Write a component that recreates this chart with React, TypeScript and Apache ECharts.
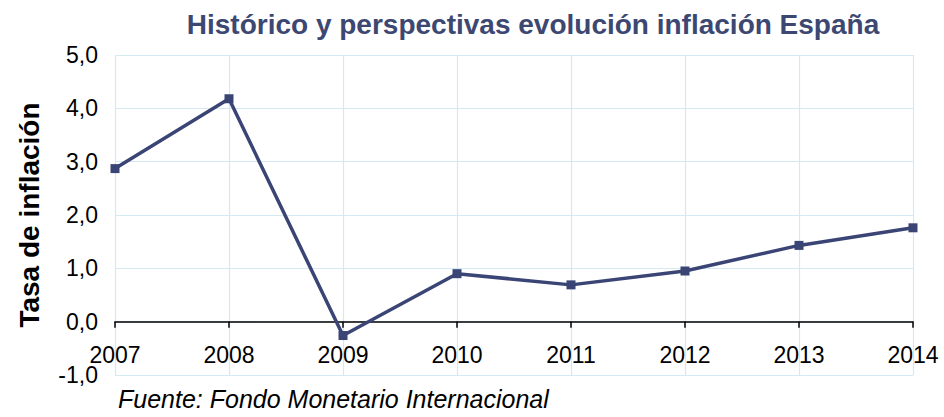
import React, { useEffect, useRef } from "react";
import * as echarts from "echarts";

const years = ["2007", "2008", "2009", "2010", "2011", "2012", "2013", "2014"];
const inflation = [2.87, 4.18, -0.26, 0.9, 0.69, 0.95, 1.43, 1.76];
const yMin = -1;
const yMax = 5;
const titleText = "Histórico y perspectivas evolución inflación España";
const yAxisName = "Tasa de inflación";
const sourceText = "Fuente: Fondo Monetario Internacional";

export default function App() {
  const ref = useRef<HTMLDivElement>(null);
  useEffect(() => {
    if (!ref.current) return;
    const chart = echarts.init(ref.current, null, { renderer: "svg" });
    const font = "'Liberation Sans', Arial, sans-serif";
    const gridTop = 55;
    const gridBottom = 42;
    const plotH = 417 - gridTop - gridBottom;
    const zeroOffset = -(plotH * (0 - yMin)) / (yMax - yMin);
    chart.setOption({
      animation: false,
      textStyle: { fontFamily: font },
      title: {
        text: titleText,
        left: 528,
        textAlign: "center",
        top: 5,
        textStyle: { fontFamily: font, fontSize: 28, fontWeight: "bold", color: "#3d4872" },
      },
      grid: { left: 115, right: 31, top: gridTop, bottom: gridBottom, containLabel: false },
      xAxis: {
        type: "category",
        data: years,
        boundaryGap: false,
        offset: zeroOffset,
        axisLine: { show: true, onZero: false, lineStyle: { color: "#000", width: 1.5 } },
        axisTick: { show: true, length: 6, lineStyle: { color: "#000", width: 1.5 } },
        axisLabel: { color: "#000", fontSize: 23, margin: 22, fontFamily: font },
        splitLine: { show: true, lineStyle: { color: "#d3eaf5", width: 1.2 } },
      },
      yAxis: {
        type: "value",
        min: yMin,
        max: yMax,
        interval: 1,
        name: yAxisName,
        nameLocation: "middle",
        nameGap: 72,
        nameTextStyle: { fontFamily: font, fontSize: 28, fontWeight: "bold", color: "#000" },
        axisLine: { show: false },
        axisTick: { show: false },
        axisLabel: {
          color: "#000",
          fontSize: 23,
          margin: 17,
          fontFamily: font,
          formatter: (v: number) => v.toFixed(1).replace(".", ","),
        },
        splitLine: { show: true, lineStyle: { color: "#d3eaf5", width: 1.2 } },
      },
      graphic: [
        {
          type: "text",
          left: 118,
          top: 386,
          style: {
            text: sourceText,
            fontFamily: font,
            fontSize: 25,
            fontStyle: "italic",
            fill: "#000",
          },
        },
      ],
      series: [
        {
          type: "line",
          data: inflation,
          symbol: "rect",
          symbolSize: 9,
          lineStyle: { color: "#3b4575", width: 3.5 },
          itemStyle: { color: "#3b4575" },
        },
      ],
    });
    return () => chart.dispose();
  }, []);
  return <div ref={ref} style={{ width: 944, height: 417, position: "absolute", left: 0, top: 0 }} />;
}
